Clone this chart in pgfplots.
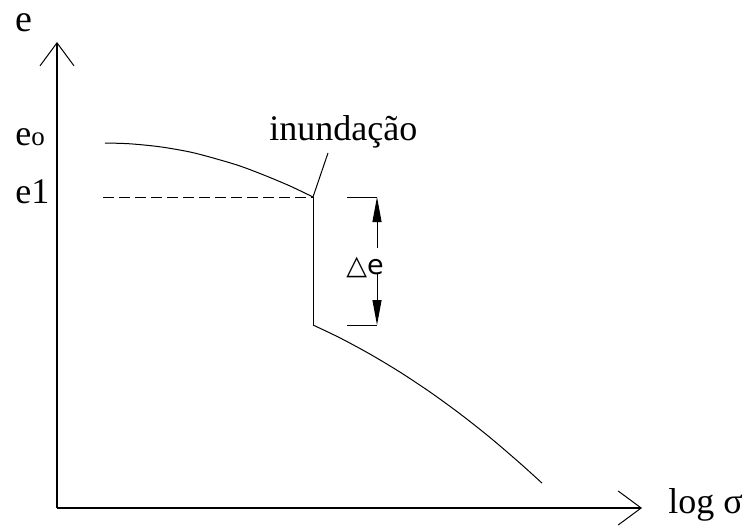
\documentclass[border=0pt]{standalone}
\usepackage{fontspec}
\setmainfont{Liberation Serif}
\newfontfamily\cadfont{DejaVu Sans}
\usepackage{pgfplots}
\pgfplotsset{compat=1.18}
\usetikzlibrary{arrows.meta}

\begin{document}
\begin{tikzpicture}
\begin{axis}[
  width=292.5pt, height=233pt, scale only axis,
  xmin=57, xmax=642, ymin=17, ymax=483,
  axis lines=left,
  axis line style={line width=0.6pt,-{Straight Barb[length=11.5pt,width=17pt,line width=0.5pt]}},
  xtick=\empty, ytick=\empty,
  clip=false,
]
  % page frame (invisible)
  \path (axis cs:0,0) rectangle (axis cs:748,525);

  % void ratio before wetting
  \addplot[black, line width=0.5pt, smooth, mark=none] coordinates {
    (105,382) (130,381.2) (160,378.2) (190,373) (215,366.5)
    (240,359) (265,349.5) (290,339) (313,328)
  };
  % collapse on wetting
  \addplot[black, line width=0.5pt, mark=none] coordinates {(313,328) (313,200)};
  % void ratio after wetting
  \addplot[black, line width=0.5pt, smooth, mark=none] coordinates {
    (313,200) (340,187.1) (370,170.9) (400,152.9) (430,133)
    (460,111.2) (490,87.5) (520,61.8) (542,41.9)
  };
  % e1 reference line
  \addplot[black, line width=0.5pt, dash pattern=on 5.5pt off 2.5pt, mark=none]
    coordinates {(103,328) (313,328)};
  % leader to label
  \addplot[black, line width=0.5pt, mark=none] coordinates {(313,328) (328,372)};

  % dimension for delta e
  \addplot[black, line width=0.5pt, mark=none] coordinates {(347,328) (377,328)};
  \addplot[black, line width=0.5pt, mark=none] coordinates {(347,200) (377,200)};
  \addplot[black, line width=0.5pt, mark=none, -{Triangle[length=12.5pt,width=4.5pt]}]
    coordinates {(377,277) (377,328)};
  \addplot[black, line width=0.5pt, mark=none, -{Triangle[length=12.5pt,width=4.5pt]}]
    coordinates {(377,251) (377,200)};

  % labels
  \node[anchor=base west, inner sep=0pt, font=\fontsize{19}{21}\selectfont] at (axis cs:15,493) {e};
  \node[anchor=base west, inner sep=0pt, font=\fontsize{18}{20}\selectfont] at (axis cs:668,12) {log σ};
  \node[anchor=base west, inner sep=0pt, font=\fontsize{18}{20}\selectfont] at (axis cs:15,380) {e{\fontsize{13.5}{15}\selectfont o}};
  \node[anchor=base west, inner sep=0pt, font=\fontsize{18}{20}\selectfont] at (axis cs:15,322) {e1};
  \node[anchor=base west, inner sep=0pt, font=\fontsize{18}{20}\selectfont] at (axis cs:269,385) {inundação};
  \node[inner sep=0pt, font=\cadfont\fontsize{13.5}{15}\selectfont] at (axis cs:365,258) {△e};
\end{axis}
\end{tikzpicture}
\end{document}
